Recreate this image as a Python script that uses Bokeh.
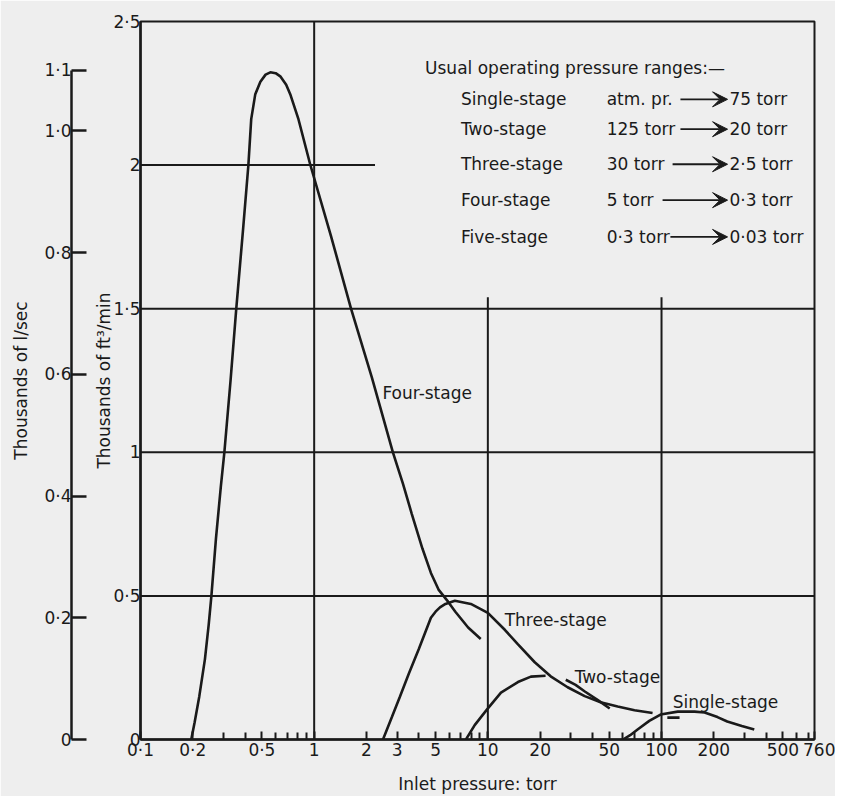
from bokeh.plotting import figure
from bokeh.models import (Range1d, LinearAxis, FixedTicker, CustomJSTickFormatter,
                          ColumnDataSource, Arrow, VeeHead)
from bokeh.core.properties import value
from bokeh.embed import file_html
from bokeh.resources import INLINE

# ---------------- data ----------------
x_ticks = [0.1, 0.2, 0.5, 1, 2, 3, 5, 10, 20, 50, 100, 200, 500, 760]
x_minor = [0.3, 0.4, 0.6, 0.7, 0.8, 0.9, 4, 6, 7, 8, 9, 30, 40, 60, 70, 80, 90,
           300, 400, 600, 700]
cfm_ticks = [0, 0.5, 1, 1.5, 2, 2.5]
lps_ticks = [0, 0.2, 0.4, 0.6, 0.8, 1.0, 1.1]
CFM_PER_LPS = 2.119  # thousand ft3/min per thousand l/sec

four_x = [0.196, 0.205, 0.218, 0.235, 0.247, 0.256, 0.272, 0.290, 0.304, 0.330,
          0.356, 0.390, 0.418, 0.434, 0.458, 0.490, 0.525, 0.559, 0.600, 0.638,
          0.690, 0.728, 0.809, 0.948, 1.25, 1.63, 2.15, 2.84, 3.25, 3.65, 4.2,
          4.7, 5.2, 5.9, 6.5, 7.7, 9.1]
four_y = [0.0, 0.06, 0.15, 0.28, 0.40, 0.50, 0.70, 0.88, 1.0, 1.25,
          1.5, 1.78, 2.0, 2.16, 2.247, 2.29, 2.315, 2.323, 2.32, 2.309,
          2.28, 2.247, 2.163, 2.003, 1.753, 1.5, 1.26, 1.0, 0.889, 0.785, 0.665,
          0.58, 0.522, 0.48, 0.445, 0.39, 0.35]

three_x = [2.49, 2.81, 3.12, 3.51, 4.01, 4.70, 5.0, 5.3, 5.7, 6.46, 7.98, 10, 12.52,
           14.87, 18.62, 23.0, 28.8, 36.1, 44.6, 55.9, 69.9, 88.8]
three_y = [0.0, 0.08, 0.15, 0.23, 0.316, 0.424, 0.445, 0.46, 0.472, 0.483, 0.472,
           0.441, 0.382, 0.332, 0.269, 0.220, 0.182, 0.151, 0.130, 0.115, 0.102, 0.092]

two_rise_x = [7.48, 8.4, 9.87, 11.9, 14.9, 17.7, 21.5]
two_rise_y = [0.0, 0.05, 0.104, 0.163, 0.2, 0.219, 0.222]
two_tail_x = [28.1, 32, 36, 43, 50.3]
two_tail_y = [0.208, 0.19, 0.168, 0.137, 0.108]

single_x = [60, 66, 72.8, 85, 98.7, 124, 155, 177, 210, 239, 290, 342]
single_y = [0.0, 0.015, 0.035, 0.065, 0.087, 0.097, 0.097, 0.094, 0.078, 0.0625,
            0.047, 0.035]
single_dash_x = [108, 127]
single_dash_y = [0.076, 0.076]

# partial grid lines of the original drawing
hgrid_y = [0.5, 1.0, 1.5, 2.0]
hgrid_x0 = [0.1, 0.1, 0.1, 0.1]
hgrid_x1 = [760, 760, 760, 2.24]
vgrid_x = [1, 10, 100]
vgrid_y0 = [0, 0, 0]
vgrid_y1 = [2.5, 1.54, 1.54]

curve_labels = ["Four-stage", "Three-stage", "Two-stage", "Single-stage"]
curve_label_x = [2.47, 12.5, 31.6, 116]
curve_label_y = [1.205, 0.417, 0.219, 0.132]

table_title = "Usual operating pressure ranges:\u2014"
stages = ["Single-stage", "Two-stage", "Three-stage", "Four-stage", "Five-stage"]
range_from = ["atm. pr.", "125 torr", "30 torr", "5 torr", "0\u00b73 torr"]
range_to = ["75 torr", "20 torr", "2\u00b75 torr", "0\u00b73 torr", "0\u00b703 torr"]

# ---------------- layout / style ----------------
INK = "#1a1a1a"
BG = "#eeeeee"
FONT = "DejaVu Sans"
FS = "17px"

row_y = [2.229, 2.125, 2.003, 1.878, 1.75]
title_x, title_y = 4.35, 2.337
col1_x, col2_x, col3_x = 7.0, 48.3, 246
arrow_x0 = [128.5, 128.5, 115.8, 101.4, 112.5]
arrow_x1 = 240

p = figure(width=835, height=796, x_axis_type="log",
           x_range=Range1d(0.1, 760), y_range=Range1d(0, 2.5),
           output_backend="svg", toolbar_location=None,
           min_border_left=140, min_border_right=21, min_border_top=21,
           min_border_bottom=56, background_fill_color=BG, border_fill_color=BG)
p.outline_line_color = INK
p.outline_line_width = 2
p.xgrid.visible = False
p.ygrid.visible = False
p.extra_y_ranges = {"lps": Range1d(0, 2.5 / CFM_PER_LPS)}

# x axis
xa = p.xaxis[0]
xa.ticker = FixedTicker(ticks=x_ticks, minor_ticks=x_minor)
xa.formatter = CustomJSTickFormatter(
    code="if (tick == 760) { return '\u00a0\u00a0760'; } return String(tick).replace('.', '\u00b7');")
xa.axis_label = "Inlet pressure: torr"
xa.major_tick_in = 8
xa.major_tick_out = 0
xa.minor_tick_in = 7
xa.minor_tick_out = 0
xa.major_tick_line_width = 2
xa.minor_tick_line_width = 2
xa.major_label_standoff = 0
xa.axis_label_standoff = 11

# main y axis
ya = p.yaxis[0]
ya.ticker = FixedTicker(ticks=cfm_ticks)
ya.formatter = CustomJSTickFormatter(code="return String(tick).replace('.', '\u00b7');")
ya.axis_label = "Thousands of ft\u00b3/min"
ya.major_tick_in = 0
ya.major_tick_out = 0
ya.minor_tick_line_color = None
ya.major_label_standoff = 0
ya.axis_label_standoff = -4

# spacer between the two vertical scales
spacer = LinearAxis(ticker=FixedTicker(ticks=[]), axis_line_color=None,
                    major_tick_line_color=None, minor_tick_line_color=None,
                    major_tick_out=0, major_tick_in=0,
                    axis_label=" ", axis_label_text_font_size="2px",
                    axis_label_standoff=15)
p.add_layout(spacer, "left")

# secondary scale in thousands of l/sec
la = LinearAxis(y_range_name="lps", ticker=FixedTicker(ticks=lps_ticks),
                bounds=(0, 1.1), axis_label="Thousands of l/sec",
                formatter=CustomJSTickFormatter(
                    code="return tick == 0 ? '0' : tick.toFixed(1).replace('.', '\u00b7');"),
                major_tick_in=15, major_tick_out=0, minor_tick_line_color=None,
                major_label_standoff=0, axis_label_standoff=10)
p.add_layout(la, "left")

for ax in [xa, ya, la]:
    ax.axis_line_color = INK
    ax.axis_line_width = 2.5
    ax.major_tick_line_color = INK
    ax.major_tick_line_width = 2.5 if ax is la else 2
    ax.major_label_text_font = FONT
    ax.major_label_text_font_size = FS
    ax.major_label_text_color = INK
    ax.axis_label_text_font = FONT
    ax.axis_label_text_font_size = FS
    ax.axis_label_text_font_style = "normal"
    ax.axis_label_text_color = INK
xa.minor_tick_line_color = INK

# grid lines
p.segment(x0=hgrid_x0, y0=hgrid_y, x1=hgrid_x1, y1=hgrid_y, line_color=INK, line_width=2)
p.segment(x0=vgrid_x, y0=vgrid_y0, x1=vgrid_x, y1=vgrid_y1, line_color=INK, line_width=2)

# curves
LW = 2.6
p.line(four_x, four_y, line_color=INK, line_width=LW)
p.line(three_x, three_y, line_color=INK, line_width=LW)
p.line(two_rise_x, two_rise_y, line_color=INK, line_width=LW)
p.line(two_tail_x, two_tail_y, line_color=INK, line_width=LW)
p.line(single_x, single_y, line_color=INK, line_width=LW)
p.line(single_dash_x, single_dash_y, line_color=INK, line_width=LW)

txt = dict(text_font=value(FONT), text_font_size=FS, text_color=INK,
           text_baseline="middle", text_align="left")
p.text(x=curve_label_x, y=curve_label_y, text=curve_labels, **txt)

# table of usual operating ranges
p.text(x=[title_x], y=[title_y], text=[table_title], **txt)
tsrc = ColumnDataSource(dict(y=row_y, stage=stages, frm=range_from, to=range_to,
                             c1=[col1_x] * 5, c2=[col2_x] * 5, c3=[col3_x] * 5))
p.text(x="c1", y="y", text="stage", source=tsrc, **txt)
p.text(x="c2", y="y", text="frm", source=tsrc, **txt)
p.text(x="c3", y="y", text="to", source=tsrc, **txt)
for x0, yy in zip(arrow_x0, row_y):
    p.add_layout(Arrow(end=VeeHead(size=15, fill_color=INK, line_color=INK, line_width=1),
                       x_start=x0, y_start=yy, x_end=arrow_x1, y_end=yy,
                       line_color=INK, line_width=1.8))

open("out.html", "w", encoding="utf-8").write(file_html(p, INLINE))
